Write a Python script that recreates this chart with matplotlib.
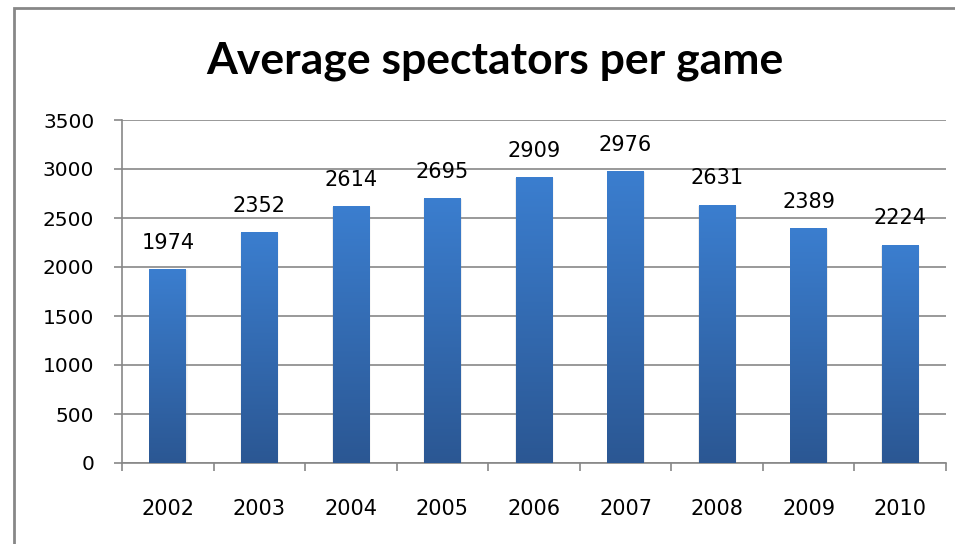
import matplotlib
matplotlib.use("Agg")
import matplotlib.pyplot as plt
import numpy as np
from matplotlib.colors import LinearSegmentedColormap
from matplotlib.patches import Rectangle

years = ['2002', '2003', '2004', '2005', '2006', '2007', '2008', '2009', '2010']
spectators = [1974, 2352, 2614, 2695, 2909, 2976, 2631, 2389, 2224]
y_ticks = [0, 500, 1000, 1500, 2000, 2500, 3000, 3500]
title = 'Average spectators per game'

GRID = '#878787'
plt.rcParams['font.family'] = ['DejaVu Sans']

fig = plt.figure(figsize=(9.55, 5.44), dpi=100)
W, H = 955, 544
ax = fig.add_axes([122 / W, (H - 463) / H, (946 - 122) / W, 343 / H])

x = np.arange(len(years))
bw = 0.4
cmap = LinearSegmentedColormap.from_list('g', ['#2b5793', '#3b7ecf'])
grad = np.linspace(0, 1, 256).reshape(-1, 1)

for xi, v in zip(x, spectators):
    # soft shadow
    for k, a in [(0.016, 0.06), (0.009, 0.08)]:
        ax.add_patch(Rectangle((xi - bw / 2 - k * 0.5, 0), bw + 1.5 * k, v - 5,
                               facecolor='#808080', edgecolor='none', alpha=a, zorder=2))
    ax.imshow(grad, extent=[xi - bw / 2, xi + bw / 2, 0, v], origin='lower',
              aspect='auto', cmap=cmap, zorder=3, interpolation='bilinear')
    ax.annotate(str(v), (xi, v), xytext=(0, 12), textcoords='offset points',
                ha='center', va='bottom', fontsize=15, color='black', zorder=4)

ax.set_xlim(-0.5, len(years) - 0.5)
ax.set_ylim(0, 3500)
ax.set_yticks(y_ticks)
ax.set_yticklabels([str(t) for t in y_ticks], fontsize=14.5)
ax.set_xticks(x)
ax.set_xticklabels(years, fontsize=15)
ax.set_xticks(np.arange(-0.5, len(years), 1), minor=True)

ax.yaxis.grid(True, color=GRID, linewidth=1.2, zorder=1)
ax.set_axisbelow(True)
ax.tick_params(axis='y', length=6, width=1.2, color=GRID, pad=14, direction='out')
ax.tick_params(axis='x', which='major', length=0, pad=26)
ax.tick_params(axis='x', which='minor', length=6, width=1.2, color=GRID, direction='out')

for s in ['top', 'right']:
    ax.spines[s].set_visible(False)
for s in ['left', 'bottom']:
    ax.spines[s].set_color(GRID)
    ax.spines[s].set_linewidth(1.2)

fig.text(495 / W, 1 - 61 / H, title, ha='center', va='center', fontsize=32,
         fontweight='bold', family=['Lato', 'DejaVu Sans'])

fig.add_artist(Rectangle((14 / W, -0.2), 2.0, (H - 8) / H + 0.2,
                         transform=fig.transFigure, fill=False,
                         edgecolor=GRID, linewidth=2))

fig.savefig('out.png', dpi=100)
